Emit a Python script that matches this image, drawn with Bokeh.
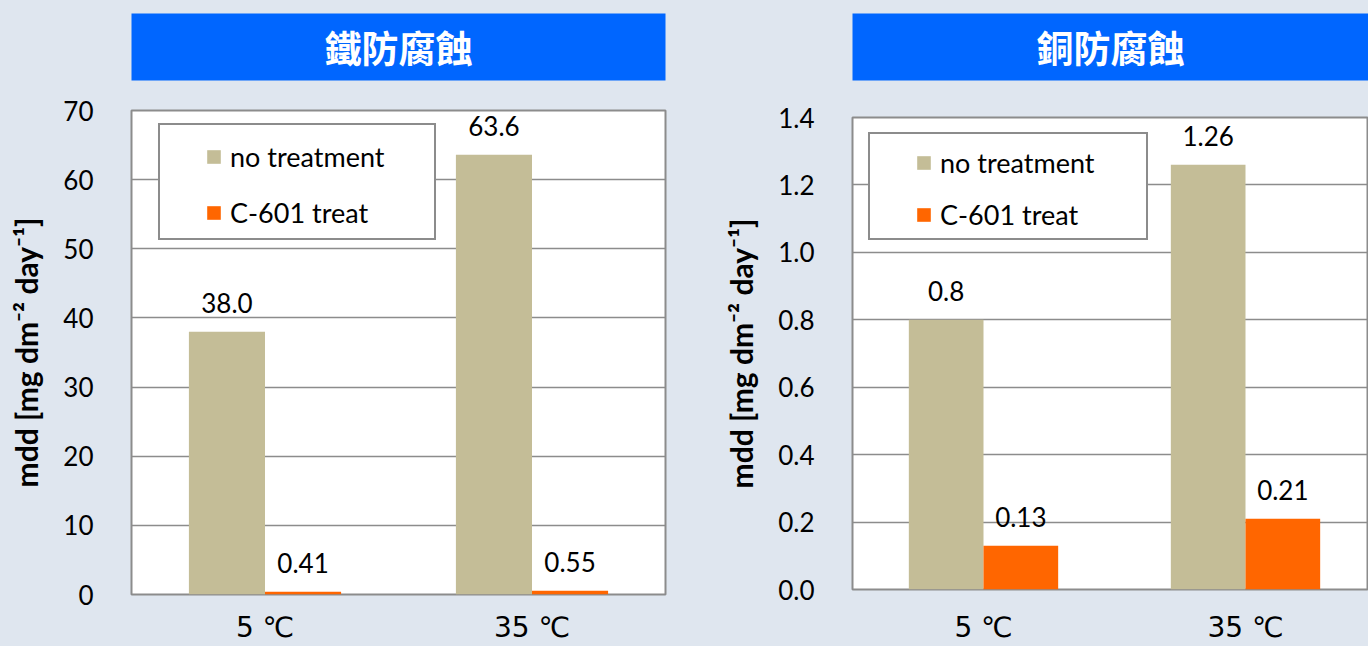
from bokeh.plotting import figure
from bokeh.models import (Range1d, FixedTicker, Legend, LegendItem, Label, LabelSet,
                          ColumnDataSource, NumeralTickFormatter, BasicTickFormatter)
from bokeh.layouts import row, column
from bokeh.embed import file_html
from bokeh.resources import INLINE
from bokeh.core.properties import value

# ---------------- data ----------------
categories = ["5 ℃", "35 ℃"]
series_labels = ["no treatment", "C-601 treat"]
iron_title = "鐵防腐蝕"
copper_title = "銅防腐蝕"
iron_no_treatment = [38.0, 63.6]
iron_c601_treat = [0.41, 0.55]
copper_no_treatment = [0.8, 1.26]
copper_c601_treat = [0.13, 0.21]
iron_y_ticks = [0, 10, 20, 30, 40, 50, 60, 70]
copper_y_ticks = [0.0, 0.2, 0.4, 0.6, 0.8, 1.0, 1.2, 1.4]
y_axis_title = "mdd [mg dm⁻² day⁻¹]"

# ---------------- style ----------------
BG = "#dfe6ef"
BLUE = "#0066ff"
TAN = "#c4bd97"
ORANGE = "#ff6600"
LINE = "#8c8c8c"
BAR_W = 0.285
FONT = "Lato"
CJK = "Noto Sans CJK TC"


def make_banner(title, width, left, right):
    b = figure(width=width, height=85, x_range=Range1d(0, 1), y_range=Range1d(0, 1),
               x_axis_location=None, y_axis_location=None, toolbar_location=None,
               output_backend="svg", min_border_left=left, min_border_right=right,
               min_border_top=13, min_border_bottom=5)
    b.grid.visible = False
    b.background_fill_color = BLUE
    b.border_fill_color = BG
    b.outline_line_color = None
    b.add_layout(Label(x=0.5, y=0.5, text=title, text_align="center", text_baseline="middle",
                       text_color="white", text_font=CJK, text_font_size="37px",
                       text_font_style="bold"))
    return b


def make_chart(no_treat, c601, y_ticks, y_format, width, left, right, top, bottom, x_span,
               box_loc, box_size, items_loc, items_spacing, cat_standoff):
    n = len(categories)
    p = figure(width=width, height=561, x_range=Range1d(0.5, 0.5 + x_span),
               y_range=Range1d(y_ticks[0], y_ticks[-1]),
               toolbar_location=None, output_backend="svg",
               min_border_left=left, min_border_right=right,
               min_border_top=top, min_border_bottom=bottom)
    p.background_fill_color = "white"
    p.border_fill_color = BG
    p.outline_line_color = LINE
    p.outline_line_width = 2
    p.xgrid.visible = False
    p.ygrid.grid_line_color = LINE
    p.ygrid.grid_line_width = 1.5

    p.yaxis.ticker = FixedTicker(ticks=y_ticks)
    p.yaxis.formatter = y_format
    p.yaxis.axis_line_color = None
    p.yaxis.major_tick_line_color = None
    p.yaxis.minor_tick_line_color = None
    p.yaxis.major_tick_out = 0
    p.yaxis.major_tick_in = 0
    p.yaxis.major_label_standoff = 38
    p.yaxis.major_label_text_font = FONT
    p.yaxis.major_label_text_font_size = "26px"
    p.yaxis.major_label_text_color = "black"
    p.yaxis.axis_label = y_axis_title
    p.yaxis.axis_label_text_font = FONT
    p.yaxis.axis_label_text_font_style = "bold"
    p.yaxis.axis_label_text_font_size = "30px"
    p.yaxis.axis_label_text_color = "black"
    p.yaxis.axis_label_standoff = 16

    centers = list(range(1, n + 1))
    p.xaxis.ticker = FixedTicker(ticks=centers)
    p.xaxis.major_label_overrides = {c: cat for c, cat in zip(centers, categories)}
    p.xaxis.axis_line_color = None
    p.xaxis.major_tick_line_color = None
    p.xaxis.minor_tick_line_color = None
    p.xaxis.major_tick_out = 0
    p.xaxis.major_tick_in = 0
    p.xaxis.major_label_standoff = cat_standoff
    p.xaxis.major_label_text_font = "DejaVu Sans"
    p.xaxis.major_label_text_font_size = "28px"
    p.xaxis.major_label_text_color = "black"

    src = ColumnDataSource(dict(
        x_no=[c - BAR_W / 2 for c in centers],
        x_c=[c + BAR_W / 2 for c in centers],
        no=no_treat, c=c601,
        no_lbl=[str(v) for v in no_treat],
        c_lbl=[str(v) for v in c601],
    ))
    r_no = p.vbar(x="x_no", top="no", width=BAR_W, source=src, fill_color=TAN, line_color=None)
    r_c = p.vbar(x="x_c", top="c", width=BAR_W, source=src, fill_color=ORANGE, line_color=None)

    for xf, yf, tf in (("x_no", "no", "no_lbl"), ("x_c", "c", "c_lbl")):
        p.add_layout(LabelSet(x=xf, y=yf, text=tf, source=src, text_align="center",
                              text_baseline="alphabetic", y_offset=19,
                              text_font=value(FONT), text_font_size="26px",
                              text_color="black"))

    # legend frame (box only)
    dummy = p.vbar(x=[], top=[], width=0.1, fill_alpha=0, line_alpha=0)
    bw, bh = box_size
    box = Legend(items=[LegendItem(label=" ", renderers=[dummy])], location=box_loc,
                 padding=0, margin=0, spacing=0, glyph_width=20, glyph_height=bh,
                 label_height=bh, label_width=bw - 20, label_standoff=0,
                 label_text_alpha=0, background_fill_color="white", background_fill_alpha=1,
                 border_line_color=LINE, border_line_width=2, border_line_alpha=1)
    p.add_layout(box)

    items = Legend(items=[LegendItem(label=series_labels[0], renderers=[r_no]),
                          LegendItem(label=series_labels[1], renderers=[r_c])],
                   location=items_loc, padding=0, margin=0, spacing=items_spacing,
                   glyph_width=17, glyph_height=17, label_height=36, label_standoff=8,
                   label_text_font=FONT, label_text_font_size="27px",
                   label_text_color="black",
                   background_fill_alpha=0, border_line_color=None)
    p.add_layout(items)
    return p


b1 = make_banner(iron_title, 696, 127, 31)
c1 = make_chart(iron_no_treatment, iron_c601_treat, iron_y_ticks, BasicTickFormatter(),
                696, 131, 31, 25, 52, 2.0,
                (27, 354), (274, 113), (74, 364), 20, 16)

b2 = make_banner(copper_title, 672, 156, 0)
c2 = make_chart(copper_no_treatment, copper_c601_treat, copper_y_ticks,
                NumeralTickFormatter(format="0.0"),
                672, 156, 0, 32, 57, 516 / 262,
                (16, 349), (276, 104), (63, 357), 16, 21)

layout = row(column(b1, c1, styles={"background-color": BG}),
             column(b2, c2, styles={"background-color": BG}),
             styles={"background-color": BG})
open("out.html", "w").write(file_html(layout, INLINE))
